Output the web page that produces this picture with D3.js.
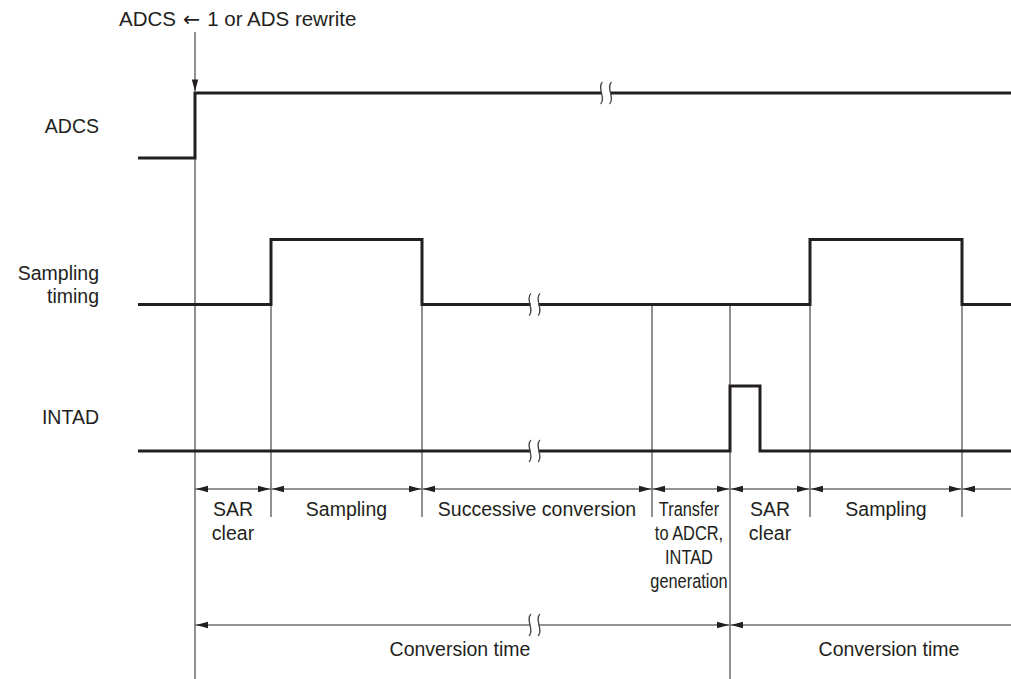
<!DOCTYPE html>
<html>
<head>
<meta charset="utf-8">
<script src="https://cdn.jsdelivr.net/npm/d3@7"></script>
<style>
  body { margin: 0; background: #fff; }
  svg text { font-family: "Liberation Sans", Arial, sans-serif; fill: #231f20; }
</style>
</head>
<body>
<svg id="chart" width="1011" height="679"></svg>
<script>
// time runs in arbitrary units, 0 = left end of the traces
const signalNames = [["ADCS"], ["Sampling", "timing"], ["INTAD"]];
const adcsSteps = [[0, 0], [57, 1], [873, 1]];
const samplingSteps = [[0, 0], [133, 1], [284, 0], [672, 1], [824, 0], [873, 0]];
const intadSteps = [[0, 0], [592, 1], [622, 0], [873, 0]];
const breakTimes = [468, 396.5, 396.5];

const phaseBounds = [57, 133, 284, 514, 592, 672, 824, 873];
const phaseLabels = [["SAR", "clear"], ["Sampling"], ["Successive conversion"],
  ["Transfer", "to ADCR,", "INTAD", "generation"], ["SAR", "clear"], ["Sampling"], []];
const conversionSpans = [[57, 592], [592, 873]];
const conversionLabel = "Conversion time";
const conversionBreak = 396.5;
const triggerTime = 57;
const triggerLabel = ["ADCS", "\u2190", "1 or ADS rewrite"];

const svg = d3.select("#chart");
const x = d3.scaleLinear().domain([0, 873]).range([138, 1011]);
// baseline of each trace
const yBase = d3.scaleLinear().domain([0, 2]).range([158, 451]);
const amp = 65;

const ink = "#231f20";
const guide = "#555";
const dim = "#6e6e6e";

// guide lines first so the traces sit on top
svg.append("line")
  .attr("x1", x(triggerTime)).attr("x2", x(triggerTime))
  .attr("y1", yBase(0) - amp).attr("y2", 679)
  .attr("stroke", guide).attr("stroke-width", 1.3);

phaseBounds.slice(1, -1).forEach(t => {
  const full = t === 592;
  svg.append("line")
    .attr("x1", x(t)).attr("x2", x(t))
    .attr("y1", yBase(1)).attr("y2", full ? 679 : 517)
    .attr("stroke", guide).attr("stroke-width", 1.3);
});

// traces
const traces = [adcsSteps, samplingSteps, intadSteps];
traces.forEach((steps, i) => {
  const line = d3.line()
    .x(d => x(d[0]))
    .y(d => yBase(i) - d[1] * amp)
    .curve(d3.curveStepAfter);
  svg.append("path")
    .attr("d", line(steps))
    .attr("fill", "none")
    .attr("stroke", ink)
    .attr("stroke-width", 3)
    .attr("stroke-linejoin", "miter");
});

function breakMark(cx, cy, h) {
  const g = svg.append("g");
  g.append("rect")
    .attr("x", cx - 4).attr("y", cy - 4)
    .attr("width", 8).attr("height", 8)
    .attr("fill", "#fff");
  [-4.5, 4.5].forEach(dx => {
    const bx = cx + dx;
    g.append("path")
      .attr("d", `M${bx + 1},${cy - h} C${bx - 5},${cy - h / 2} ${bx + 5},${cy + h / 2} ${bx - 1},${cy + h}`)
      .attr("fill", "none")
      .attr("stroke", "#444")
      .attr("stroke-width", 1.2);
  });
}

traces.forEach((steps, i) => {
  // break sits on whatever level the trace has at that time
  let level = 0;
  steps.forEach(d => { if (d[0] <= breakTimes[i]) level = d[1]; });
  breakMark(x(breakTimes[i]), yBase(i) - level * amp, 11);
});

// signal names
signalNames.forEach((lines, i) => {
  const base = i === 0 ? 133 : (i === 1 ? 280 : 424);
  lines.forEach((s, k) => {
    svg.append("text")
      .attr("x", 99).attr("y", base + k * 23)
      .attr("text-anchor", "end")
      .attr("font-size", 19.5)
      .text(s);
  });
});

// trigger arrow and label
const trig = svg.append("text")
  .attr("x", 119).attr("y", 26)
  .attr("font-size", 20.5);
trig.append("tspan").text(triggerLabel[0]);
trig.append("tspan").attr("dx", 7)
  .style("font-family", "'DejaVu Sans'")
  .attr("transform", "scale(1.3,1)")
  .text(triggerLabel[1]);
trig.append("tspan").attr("dx", 7).text(triggerLabel[2]);

function arrowHead(px, py, dir, vertical) {
  // dir: +1 points right/down, -1 points left/up
  const L = 12, W = 3.2;
  let d;
  if (vertical) d = `M${px},${py} L${px - W},${py - dir * L} L${px + W},${py - dir * L} Z`;
  else d = `M${px},${py} L${px - dir * L},${py - W} L${px - dir * L},${py + W} Z`;
  svg.append("path").attr("d", d).attr("fill", ink);
}

svg.append("line")
  .attr("x1", x(triggerTime)).attr("x2", x(triggerTime))
  .attr("y1", 32).attr("y2", yBase(0) - amp - 2)
  .attr("stroke", guide).attr("stroke-width", 1.3);
arrowHead(x(triggerTime), yBase(0) - amp - 1.5, 1, true);

// phase dimension row
const dimY = 489;
phaseBounds.slice(0, -1).forEach((t0, i) => {
  const t1 = phaseBounds[i + 1];
  const last = i === phaseBounds.length - 2;
  svg.append("line")
    .attr("x1", x(t0)).attr("x2", x(t1))
    .attr("y1", dimY).attr("y2", dimY)
    .attr("stroke", dim).attr("stroke-width", 1.5);
  arrowHead(x(t0) + 1, dimY, -1, false);
  if (!last) arrowHead(x(t1) - 1, dimY, 1, false);

  const lbl = phaseLabels[i];
  const cx = (x(t0) + x(t1)) / 2;
  const transfer = lbl.length > 2;
  lbl.forEach((s, k) => {
    const tx = svg.append("text")
      .attr("x", transfer ? 689 : cx)
      .attr("y", 516 + k * 24)
      .attr("text-anchor", "middle")
      .attr("font-size", 19.5)
      .text(s);
    if (transfer) {
      tx.attr("transform", `translate(689,0) scale(0.84,1) translate(-689,0)`);
    }
  });
});

// conversion time row
const convY = 625;
conversionSpans.forEach(([t0, t1], i) => {
  svg.append("line")
    .attr("x1", x(t0)).attr("x2", x(t1))
    .attr("y1", convY).attr("y2", convY)
    .attr("stroke", dim).attr("stroke-width", 1.5);
  arrowHead(x(t0) + 1, convY, -1, false);
  if (i === 0) arrowHead(x(t1) - 1, convY, 1, false);
  svg.append("text")
    .attr("x", i === 0 ? 460 : 889)
    .attr("y", 656)
    .attr("text-anchor", "middle")
    .attr("font-size", 19.5)
    .text(conversionLabel);
});
breakMark(x(conversionBreak), convY, 11);
</script>
</body>
</html>
